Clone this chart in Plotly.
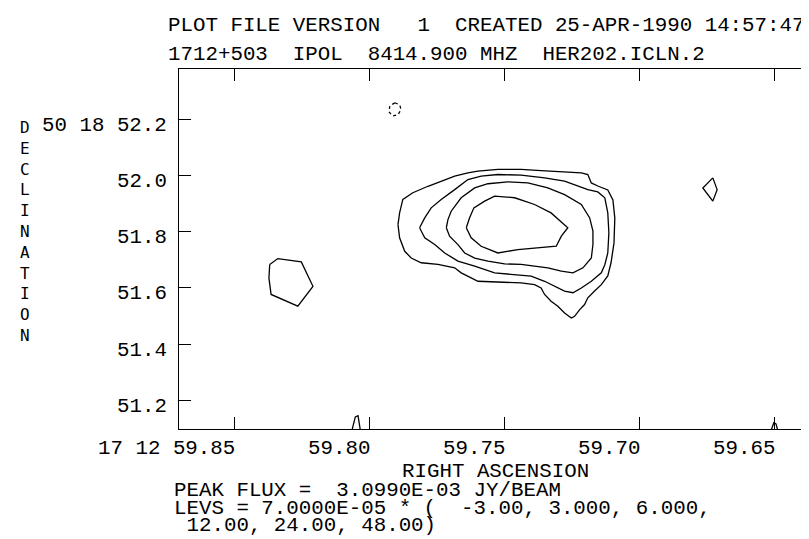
import plotly.graph_objects as go

# ---------------- data ----------------
ra_ticks = [59.85, 59.80, 59.75, 59.70, 59.65]
ra_tick_labels = ["17 12 59.85", "59.80", "59.75", "59.70", "59.65"]
dec_ticks = [51.2, 51.4, 51.6, 51.8, 52.0, 52.2]
dec_tick_labels = ["51.2", "51.4", "51.6", "51.8", "52.0", "50 18 52.2"]

ra_range = [59.8707, 59.6359]
dec_range = [51.0968, 52.3815]

# level 3 (outer) main source
c3_main_ra = [59.7896, 59.7890, 59.7878, 59.7841, 59.7785, 59.7736, 59.7686, 59.7637, 59.7600, 59.7526,
              59.7440, 59.7366, 59.7291, 59.7217, 59.7193, 59.7180, 59.7156, 59.7119, 59.7100, 59.7093,
              59.7096, 59.7107, 59.7119, 59.7143, 59.7168, 59.7193, 59.7205, 59.7223, 59.7242, 59.7254,
              59.7279, 59.7304, 59.7329, 59.7353, 59.7366, 59.7390, 59.7440, 59.7526, 59.7600, 59.7625,
              59.7662, 59.7686, 59.7748, 59.7810, 59.7847, 59.7871, 59.7890]
c3_main_dec = [51.826, 51.868, 51.916, 51.940, 51.963, 51.981, 51.999, 52.011, 52.017, 52.023,
               52.023, 52.019, 52.014, 52.011, 52.005, 51.975, 51.964, 51.950, 51.914, 51.850,
               51.761, 51.690, 51.643, 51.612, 51.589, 51.565, 51.541, 51.523, 51.499, 51.493,
               51.511, 51.535, 51.553, 51.577, 51.600, 51.612, 51.618, 51.622, 51.624, 51.636,
               51.654, 51.672, 51.684, 51.690, 51.707, 51.731, 51.779]

# level 6
c6_ra = [59.7816, 59.7797, 59.7773, 59.7736, 59.7686, 59.7637, 59.7588, 59.7526, 59.7440, 59.7353,
         59.7279, 59.7230, 59.7193, 59.7156, 59.7130, 59.7119, 59.7115, 59.7119, 59.7130, 59.7143,
         59.7180, 59.7217, 59.7248, 59.7279, 59.7316, 59.7353, 59.7403, 59.7464, 59.7538, 59.7612,
         59.7674, 59.7723, 59.7760, 59.7797]
c6_dec = [51.815, 51.850, 51.886, 51.916, 51.951, 51.987, 51.999, 52.005, 52.003, 51.993,
          51.981, 51.963, 51.951, 51.943, 51.922, 51.868, 51.797, 51.725, 51.683, 51.654,
          51.624, 51.600, 51.583, 51.589, 51.606, 51.624, 51.642, 51.648, 51.654, 51.678,
          51.696, 51.725, 51.755, 51.779]

# level 12
c12_ra = [59.7717, 59.7711, 59.7699, 59.7662, 59.7612, 59.7563, 59.7489, 59.7415, 59.7341, 59.7279,
          59.7217, 59.7186, 59.7174, 59.7174, 59.7180, 59.7211, 59.7248, 59.7291, 59.7341, 59.7390,
          59.7440, 59.7501, 59.7563, 59.7612, 59.7649, 59.7674, 59.7705]
c12_dec = [51.815, 51.844, 51.874, 51.922, 51.957, 51.972, 51.979, 51.975, 51.957, 51.933,
           51.898, 51.850, 51.803, 51.755, 51.707, 51.672, 51.654, 51.660, 51.672, 51.678,
           51.684, 51.686, 51.696, 51.707, 51.725, 51.755, 51.785]

# level 24
c24_ra = [59.7643, 59.7631, 59.7615, 59.7575, 59.7538, 59.7464, 59.7390, 59.7329, 59.7267, 59.7291,
          59.7310, 59.7390, 59.7452, 59.7526, 59.7588, 59.7625]
c24_dec = [51.815, 51.850, 51.886, 51.910, 51.928, 51.922, 51.898, 51.868, 51.815, 51.785,
           51.749, 51.743, 51.737, 51.725, 51.749, 51.779]

# level 3 small islands
c3_left_ra = [59.8371, 59.8341, 59.8254, 59.8211, 59.8267, 59.8366, 59.8374]
c3_left_dec = [51.684, 51.705, 51.693, 51.606, 51.535, 51.577, 51.636]
c3_right_ra = [59.6730, 59.6714, 59.6730, 59.6767]
c3_right_dec = [51.993, 51.951, 51.910, 51.957]

# level -3 (dashed)
cneg_ra = [59.7907, 59.7889, 59.7885, 59.7896, 59.7915, 59.7930, 59.7926]
cneg_dec = [52.261, 52.253, 52.236, 52.218, 52.214, 52.229, 52.250]

# contours cut by the lower edge (open)
edge1_ra = [59.8067, 59.8054, 59.8044, 59.8035]
edge1_dec = [51.09, 51.140, 51.144, 51.09]
edge2_ra = [59.6515, 59.6504, 59.6496, 59.6489]
edge2_dec = [51.09, 51.119, 51.115, 51.09]

header1 = "PLOT FILE VERSION   1  CREATED 25-APR-1990 14:57:47"
header2 = "1712+503  IPOL  8414.900 MHZ  HER202.ICLN.2"
x_title = "RIGHT ASCENSION"
y_title = "DECLINATION"
peak_text = "PEAK FLUX =  3.0990E-03 JY/BEAM"
levs_line1 = "LEVS = 7.0000E-05 * (  -3.00, 3.000, 6.000,"
levs_line2 = " 12.00, 24.00, 48.00)"

# ---------------- figure ----------------
W, H = 809, 539
PL, PR, PT, PB = 171, 805, 61, 421
FONT = "Liberation Mono"
FS = 20.8


def nb(s):
    return s.replace(" ", "\u00a0")


def fx(px):
    return (px - PL) / (PR - PL)


def fy(py):
    return (PB - py) / (PB - PT)


fig = go.Figure()

line = dict(color="black", width=1.3)


def closed(xs, ys):
    return xs + xs[:1], ys + ys[:1]


for xs, ys in [(c3_main_ra, c3_main_dec), (c6_ra, c6_dec), (c12_ra, c12_dec),
               (c24_ra, c24_dec), (c3_left_ra, c3_left_dec), (c3_right_ra, c3_right_dec)]:
    cx, cy = closed(xs, ys)
    fig.add_trace(go.Scatter(x=cx, y=cy, mode="lines", line=line, hoverinfo="skip", showlegend=False))

cx, cy = closed(cneg_ra, cneg_dec)
fig.add_trace(go.Scatter(x=cx, y=cy, mode="lines", line=dict(color="black", width=1.3, dash="3px,3px"),
                         hoverinfo="skip", showlegend=False))

for xs, ys in [(edge1_ra, edge1_dec), (edge2_ra, edge2_dec)]:
    fig.add_trace(go.Scatter(x=xs, y=ys, mode="lines", line=line, hoverinfo="skip", showlegend=False))

axis_common = dict(showgrid=False, zeroline=False, showline=True, linecolor="black", linewidth=1.3,
                   mirror="ticks", ticks="inside", ticklen=12, tickwidth=1.3, tickcolor="black",
                   showticklabels=False, fixedrange=True)

fig.update_xaxes(range=ra_range, tickmode="array", tickvals=ra_ticks, **axis_common)
fig.update_yaxes(range=dec_range, tickmode="array", tickvals=dec_ticks, **axis_common)

ann = []
font = dict(family=FONT, size=FS, color="black")

for v, lab in zip(ra_ticks, ra_tick_labels):
    ann.append(dict(x=v, xref="x", y=fy(440), yref="paper", xanchor="right", yanchor="middle",
                    text=nb(lab), showarrow=False, font=font, xshift=2))

for v, lab in zip(dec_ticks, dec_tick_labels):
    ann.append(dict(x=fx(161), xref="paper", y=v, yref="y", xanchor="right", yanchor="middle",
                    text=nb(lab), showarrow=False, font=font, yshift=-6))

ann.append(dict(x=fx(158), xref="paper", y=fy(17.5), yref="paper", xanchor="left", yanchor="middle",
                text=nb(header1), showarrow=False, font=font))
ann.append(dict(x=fx(158), xref="paper", y=fy(46.5), yref="paper", xanchor="left", yanchor="middle",
                text=nb(header2), showarrow=False, font=font))
ann.append(dict(x=fx(487), xref="paper", y=fy(463), yref="paper", xanchor="center", yanchor="middle",
                text=nb(x_title), showarrow=False, font=font))
ann.append(dict(x=fx(164), xref="paper", y=fy(482), yref="paper", xanchor="left", yanchor="middle",
                text=nb(peak_text), showarrow=False, font=font))
ann.append(dict(x=fx(164), xref="paper", y=fy(500), yref="paper", xanchor="left", yanchor="middle",
                text=nb(levs_line1), showarrow=False, font=font))
ann.append(dict(x=fx(164), xref="paper", y=fy(517), yref="paper", xanchor="left", yanchor="middle",
                text=nb(levs_line2), showarrow=False, font=font))
ann.append(dict(x=fx(17), xref="paper", y=fy(224), yref="paper", xanchor="center", yanchor="middle",
                text="<br>".join(list(y_title)), showarrow=False, align="center",
                font=dict(family="DejaVu Sans Mono", size=16, color="black")))

fig.update_layout(width=W, height=H, autosize=False,
                  margin=dict(l=PL, r=W - PR, t=PT, b=H - PB, pad=0),
                  paper_bgcolor="white", plot_bgcolor="white",
                  showlegend=False, annotations=ann)

fig.write_html("out.html")
